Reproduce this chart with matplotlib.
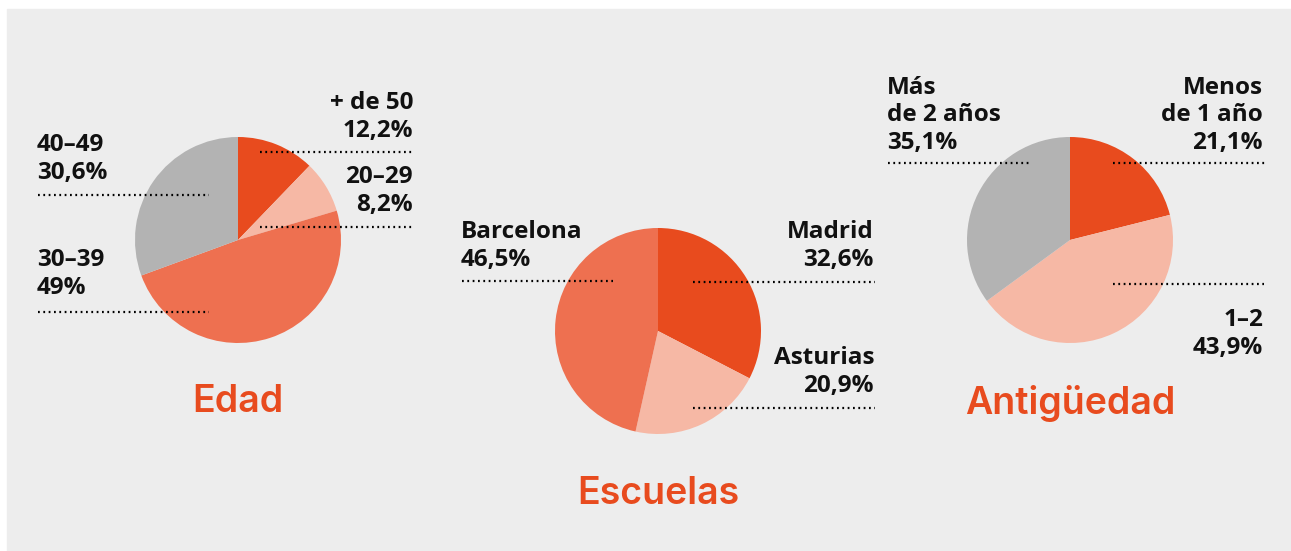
import matplotlib.pyplot as plt
from matplotlib.patches import Rectangle

# datos
edad_labels = ['+ de 50', '20–29', '30–39', '40–49']
edad_values = [12.2, 8.2, 49.0, 30.6]
edad_text = ['12,2%', '8,2%', '49%', '30,6%']

escuelas_labels = ['Madrid', 'Asturias', 'Barcelona']
escuelas_values = [32.6, 20.9, 46.5]
escuelas_text = ['32,6%', '20,9%', '46,5%']

antig_labels = ['Menos\nde 1 año', '1–2', 'Más\nde 2 años']
antig_values = [21.1, 43.9, 35.1]
antig_text = ['21,1%', '43,9%', '35,1%']

naranja = '#E84B1E'
salmon = '#EE7050'
rosa = '#F6B8A5'
gris = '#B3B3B3'
fondo = '#EDEDED'

W, H = 1291, 551
plt.rcParams['font.family'] = ['Open Sans', 'DejaVu Sans']

fig = plt.figure(figsize=(W / 100, H / 100), dpi=100)
fig.patch.set_facecolor('white')
ax = fig.add_axes([0, 0, 1, 1])
ax.add_patch(Rectangle((7, 0), W - 7, H - 9, color=fondo, zorder=0))


def Y(y):
    return H - y


def pie(cx, cy, values, colors):
    ax.pie(values, colors=colors, startangle=90, counterclock=False,
           center=(cx, Y(cy)), radius=103, wedgeprops=dict(linewidth=0),
           frame=True)


def dotted(x0, x1, y):
    ax.plot([x0, x1], [Y(y), Y(y)], color='black', lw=1.6,
            linestyle=(0, (0.8, 1.6)), zorder=5)


def label(x, y, txt, ha):
    ax.text(x, Y(y), txt, ha=ha, va='bottom', fontsize=17.5, fontweight='bold',
            color='#111111', linespacing=1.2, zorder=6)


def titulo(x, y, txt):
    ax.text(x, Y(y), txt, ha='center', va='center', fontsize=27,
            fontweight='semibold', color=naranja, family='Inter')


# Edad
pie(238, 240, edad_values, [naranja, rosa, salmon, gris])
label(413, 143, edad_labels[0] + '\n' + edad_text[0], 'right')
dotted(260, 414, 152)
label(413, 217, edad_labels[1] + '\n' + edad_text[1], 'right')
dotted(260, 414, 227)
label(37, 185, edad_labels[3] + '\n' + edad_text[3], 'left')
dotted(38, 209, 195)
label(37, 300, edad_labels[2] + '\n' + edad_text[2], 'left')
dotted(38, 209, 312)
titulo(238, 402, 'Edad')

# Escuelas
pie(658, 331, escuelas_values, [naranja, rosa, salmon])
label(874, 272, escuelas_labels[0] + '\n' + escuelas_text[0], 'right')
dotted(693, 875, 282)
label(874, 398, escuelas_labels[1] + '\n' + escuelas_text[1], 'right')
dotted(693, 875, 408)
label(461, 272, escuelas_labels[2] + '\n' + escuelas_text[2], 'left')
dotted(462, 613, 281)
titulo(658, 494, 'Escuelas')

# Antigüedad
pie(1070, 240, antig_values, [naranja, rosa, gris])
label(1263, 155, antig_labels[0] + '\n' + antig_text[0], 'right')
dotted(1113, 1267, 163)
label(887, 155, antig_labels[2] + '\n' + antig_text[2], 'left')
dotted(888, 1031, 163)
label(1263, 360, antig_labels[1] + '\n' + antig_text[1], 'right')
dotted(1113, 1264, 284)
titulo(1070, 404, 'Antigüedad')

ax.set_xlim(0, W)
ax.set_ylim(0, H)
ax.set_aspect('auto')
ax.axis('off')

fig.savefig('out.png', dpi=100, facecolor='white')
